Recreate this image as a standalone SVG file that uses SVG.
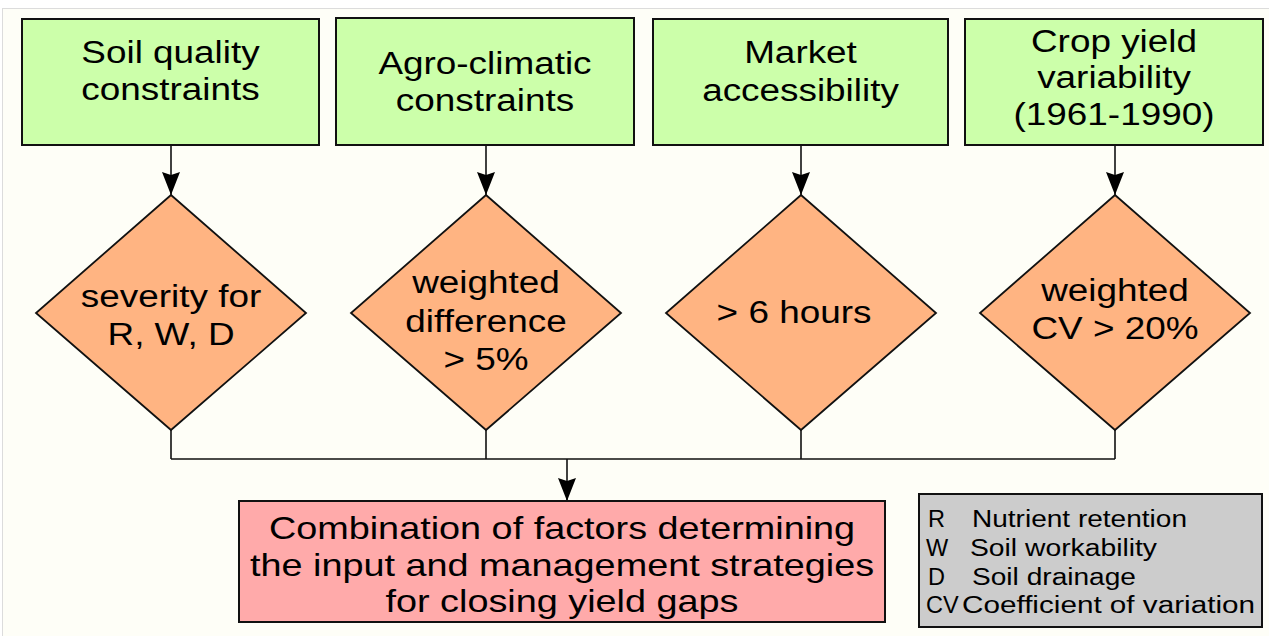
<svg xmlns="http://www.w3.org/2000/svg" width="1269" height="636" viewBox="0 0 1269 636">
<style>
text{font-family:"Liberation Sans",Arial,sans-serif;fill:#000;}
.t{font-size:31px;text-anchor:middle;}
.lg{font-size:23.5px;}
.box{stroke:#111;stroke-width:2;}
.green{fill:#ccffaa;}
.dia{fill:#ffb482;stroke:#111;stroke-width:1.8;}
.con{fill:none;stroke:#111;stroke-width:1.6;}
</style>
<defs>
<marker id="ah" markerUnits="userSpaceOnUse" markerWidth="24" markerHeight="18" viewBox="0 0 24 18" refX="23" refY="9" orient="auto">
<path d="M0,0 L23,9 L0,18 L3,9 z" fill="#000"/>
</marker>
</defs>
<rect x="0" y="0" width="1269" height="636" fill="#ffffff"/>
<rect x="2.5" y="8.5" width="1270" height="632" fill="#fefef7" stroke="#dcdcdc" stroke-width="1"/>

<g id="connectors">
<line class="con" x1="171" y1="145" x2="171" y2="195" marker-end="url(#ah)"/>
<line class="con" x1="486" y1="145" x2="486" y2="195" marker-end="url(#ah)"/>
<line class="con" x1="801" y1="145" x2="801" y2="195" marker-end="url(#ah)"/>
<line class="con" x1="1115" y1="145" x2="1115" y2="195" marker-end="url(#ah)"/>
<path class="con" d="M171,430 V459 M486,430 V459 M801,430 V459 M1115,430 V459 M171,459 H1115"/>
<line class="con" x1="567" y1="459" x2="567" y2="501" marker-end="url(#ah)"/>
</g>

<g id="box-soil">
<rect class="box green" x="22" y="19" width="297" height="126"/>
<text class="t" transform="translate(170.5 0) scale(1.19 1)" x="0" y="63">Soil quality</text>
<text class="t" transform="translate(170.5 0) scale(1.19 1)" x="0" y="100">constraints</text>
</g>
<g id="box-agro">
<rect class="box green" x="336" y="18" width="298" height="127"/>
<text class="t" transform="translate(485 0) scale(1.19 1)" x="0" y="74">Agro-climatic</text>
<text class="t" transform="translate(485 0) scale(1.19 1)" x="0" y="111">constraints</text>
</g>
<g id="box-market">
<rect class="box green" x="653" y="19" width="295" height="126"/>
<text class="t" transform="translate(800.5 0) scale(1.19 1)" x="0" y="63">Market</text>
<text class="t" transform="translate(800.5 0) scale(1.19 1)" x="0" y="101">accessibility</text>
</g>
<g id="box-crop">
<rect class="box green" x="965" y="19" width="298" height="126"/>
<text class="t" transform="translate(1114 0) scale(1.19 1)" x="0" y="52">Crop yield</text>
<text class="t" transform="translate(1114 0) scale(1.19 1)" x="0" y="88">variability</text>
<text class="t" transform="translate(1114 0) scale(1.19 1)" x="0" y="125">(1961-1990)</text>
</g>

<g id="dia-soil">
<polygon class="dia" points="171,195 306,313 171,430 36,313"/>
<text class="t" transform="translate(171 0) scale(1.19 1)" x="0" y="307">severity for</text>
<text class="t" transform="translate(171 0) scale(1.19 1)" x="0" y="345">R, W, D</text>
</g>
<g id="dia-agro">
<polygon class="dia" points="486,195 621,313 486,430 351,313"/>
<text class="t" transform="translate(486 0) scale(1.19 1)" x="0" y="293">weighted</text>
<text class="t" transform="translate(486 0) scale(1.19 1)" x="0" y="332">difference</text>
<text class="t" transform="translate(486 0) scale(1.19 1)" x="0" y="370">&gt; 5%</text>
</g>
<g id="dia-market">
<polygon class="dia" points="801,195 936,313 801,430 666,313"/>
<text class="t" transform="translate(794 0) scale(1.19 1)" x="0" y="323">&gt; 6 hours</text>
</g>
<g id="dia-crop">
<polygon class="dia" points="1115,195 1250,313 1115,430 980,313"/>
<text class="t" transform="translate(1115 0) scale(1.19 1)" x="0" y="301">weighted</text>
<text class="t" transform="translate(1115 0) scale(1.19 1)" x="0" y="339">CV &gt; 20%</text>
</g>

<g id="box-result">
<rect class="box" fill="#ffaaaa" x="239" y="501" width="646" height="121"/>
<text class="t" transform="translate(562 0) scale(1.22 1)" x="0" y="539">Combination of factors determining</text>
<text class="t" transform="translate(562 0) scale(1.22 1)" x="0" y="576">the input and management strategies</text>
<text class="t" transform="translate(562 0) scale(1.22 1)" x="0" y="612">for closing yield gaps</text>
</g>

<g id="legend">
<rect class="box" fill="#cccccc" x="919" y="494" width="343" height="133"/>
<text class="lg" x="928" y="527">R</text>
<text class="lg" x="972" y="527" textLength="215" lengthAdjust="spacingAndGlyphs">Nutrient retention</text>
<text class="lg" x="926" y="556">W</text>
<text class="lg" x="970" y="556" textLength="187" lengthAdjust="spacingAndGlyphs">Soil workability</text>
<text class="lg" x="928" y="585">D</text>
<text class="lg" x="972" y="585" textLength="164" lengthAdjust="spacingAndGlyphs">Soil drainage</text>
<text class="lg" x="926" y="613">CV</text>
<text class="lg" x="962" y="613" textLength="293" lengthAdjust="spacingAndGlyphs">Coefficient of variation</text>
</g>
</svg>
